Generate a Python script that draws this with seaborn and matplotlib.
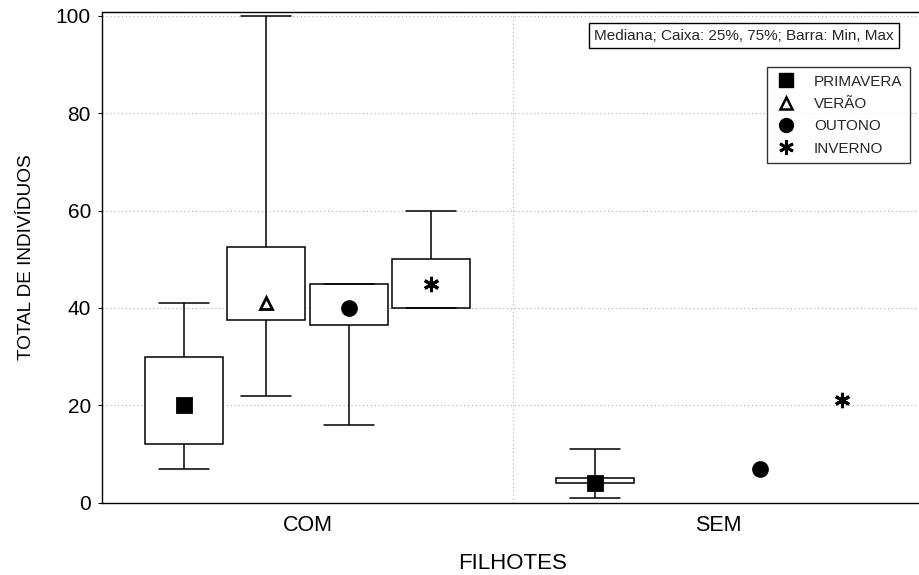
import numpy as np
import pandas as pd
import matplotlib
matplotlib.use("Agg")
import matplotlib.pyplot as plt
from matplotlib.lines import Line2D
import seaborn as sns

# ---- data ----
grupos = ["COM", "SEM"]
estacoes = ["PRIMAVERA", "VERÃO", "OUTONO", "INVERNO"]
# order of values: [COM, SEM]; NaN = no data
minimos  = {"PRIMAVERA": [7, 1],   "VERÃO": [22, np.nan],   "OUTONO": [16, 7],   "INVERNO": [40, 21]}
q1s      = {"PRIMAVERA": [12, 4],  "VERÃO": [37.5, np.nan], "OUTONO": [36.5, 7], "INVERNO": [40, 21]}
medianas = {"PRIMAVERA": [20, 4],  "VERÃO": [41, np.nan],   "OUTONO": [40, 7],   "INVERNO": [45, 21]}
q3s      = {"PRIMAVERA": [30, 5],  "VERÃO": [52.5, np.nan], "OUTONO": [45, 7],   "INVERNO": [50, 21]}
maximos  = {"PRIMAVERA": [41, 11], "VERÃO": [100, np.nan],  "OUTONO": [45, 7],   "INVERNO": [60, 21]}
y_ticks = [0, 20, 40, 60, 80, 100]

# five-number summaries -> rows (5 values give exact quartiles with linear interpolation)
box_rows, med_rows = [], []
for est in estacoes:
    for i, g in enumerate(grupos):
        vals = [minimos[est][i], q1s[est][i], medianas[est][i], q3s[est][i], maximos[est][i]]
        if np.isnan(vals[2]):
            continue
        med_rows.append({"FILHOTES": g, "ESTAÇÃO": est, "valor": vals[2]})
        if vals[4] > vals[0]:
            for v in vals:
                box_rows.append({"FILHOTES": g, "ESTAÇÃO": est, "valor": v})
box_df = pd.DataFrame(box_rows)
med_df = pd.DataFrame(med_rows)

sns.set_style("white")
plt.rcParams["font.family"] = ["Liberation Sans", "DejaVu Sans"]

fig = plt.figure(figsize=(9.19, 5.75), dpi=100)
W, H = 919, 575
left, right, top, bottom = 102, 924, 12, 502.7
ax = fig.add_axes([left / W, 1 - bottom / H, (right - left) / W, (bottom - top) / H])

sns.boxplot(data=box_df, x="FILHOTES", y="valor", hue="ESTAÇÃO",
            order=grupos, hue_order=estacoes, whis=np.inf, width=0.8, gap=0.05,
            palette=["white"] * 4, linecolor="black", linewidth=1.1,
            showfliers=False, medianprops={"visible": False},
            capwidths=0.122, legend=False, ax=ax)

sns.pointplot(data=med_df, x="FILHOTES", y="valor", hue="ESTAÇÃO",
              order=grupos, hue_order=estacoes, dodge=0.6, linestyle="none",
              markers=["s", "^", "o", (6, 2, 0)], palette=["black"] * 4,
              errorbar=None, markersize=10, legend=False, ax=ax)

for ln in ax.lines:
    m = ln.get_marker()
    if m == "^":
        ln.set_markerfacecolor("white")
        ln.set_markeredgecolor("black")
        ln.set_markeredgewidth(2)
        ln.set_markersize(9)
    elif isinstance(m, tuple):
        ln.set_markeredgewidth(2.2)
        ln.set_markersize(11)

ax.set_xlim(-0.5, 1.5)
ax.set_ylim(0, 100.8)
ax.set_yticks(y_ticks)
ax.set_xticks([0, 1])
ax.set_xticklabels(grupos)
ax.tick_params(axis="y", labelsize=15, length=3, width=0.8, direction="out", left=True, pad=5, colors="black")
ax.tick_params(axis="x", labelsize=15.5, length=0, pad=9, colors="black")

ax.grid(False)
for yv in y_ticks[1:]:
    ax.axhline(yv, color="#b0b0b0", linestyle=(0, (1, 2.5)), linewidth=0.8, zorder=0)
ax.axvline(0.5, color="#b0b0b0", linestyle=(0, (1, 2.5)), linewidth=0.8, zorder=0)

for s in ax.spines.values():
    s.set_visible(True)
    s.set_color("black")
    s.set_linewidth(1.0)

ax.set_ylabel("TOTAL DE INDIVÍDUOS", fontsize=13.7, labelpad=15, color="black")
ax.set_xlabel("FILHOTES", fontsize=16, labelpad=12, color="black")

handles = [
    Line2D([], [], linestyle="none", marker="s", markersize=10, color="black"),
    Line2D([], [], linestyle="none", marker="^", markersize=8.5, markerfacecolor="white",
           markeredgecolor="black", markeredgewidth=1.8),
    Line2D([], [], linestyle="none", marker="o", markersize=10, color="black"),
    Line2D([], [], linestyle="none", marker=(6, 2, 0), markersize=10.5, color="black",
           markeredgewidth=2),
]
leg = fig.legend(handles, estacoes, loc="upper right",
                 bbox_to_anchor=(910 / W, 1 - 67 / H), fontsize=11,
                 frameon=True, fancybox=False, edgecolor="black",
                 handletextpad=1.0, labelspacing=0.55, borderpad=0.5,
                 handlelength=1.6, borderaxespad=0)
leg.get_frame().set_linewidth(1.0)

fig.text(744 / W, 1 - 35.5 / H, "Mediana; Caixa: 25%, 75%; Barra: Min, Max",
         ha="center", va="center", fontsize=11,
         bbox=dict(boxstyle="square,pad=0.35", facecolor="white", edgecolor="black", linewidth=1.0))
# widen note frame slightly to match reference
fig.canvas.draw()
note = fig.texts[-1]
patch = note.get_bbox_patch()
patch.set_boxstyle("square", pad=0.35)

fig.savefig("out.png", dpi=100)
